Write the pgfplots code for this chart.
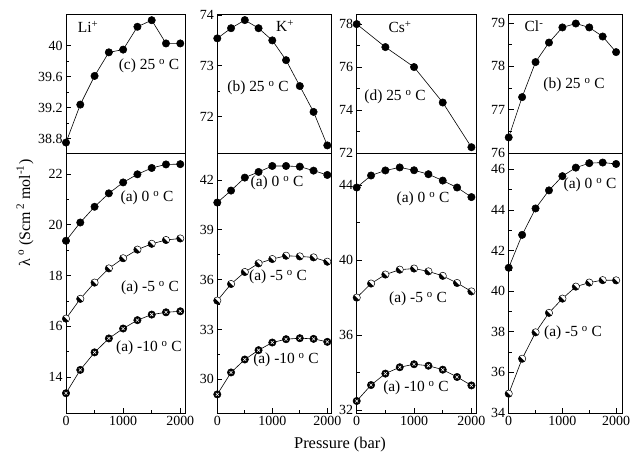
\documentclass[border=0pt]{standalone}
\usepackage{fontspec}
\setmainfont{Liberation Serif}
\usepackage{pgfplots}
\usepackage{pgfplotstable}
\pgfplotsset{compat=1.18}

\pgfdeclareplotmark{hdiag}{%
  \begin{pgfscope}
  \pgfpathcircle{\pgfpointorigin}{\pgfplotmarksize}%
  \pgfsetfillcolor{white}%
  \pgfusepathqfill
  \end{pgfscope}
  \begin{pgfscope}
  \pgfpathmoveto{\pgfqpointpolar{135}{\pgfplotmarksize}}%
  \pgfpatharc{135}{315}{\pgfplotmarksize}%
  \pgfpathclose
  \pgfsetfillcolor{black}%
  \pgfusepathqfill
  \end{pgfscope}
  \pgfpathcircle{\pgfpointorigin}{\pgfplotmarksize}%
  \pgfusepathqstroke
}
\pgfdeclareplotmark{xdot}{%
  \begin{pgfscope}
  \pgfsetfillcolor{black}%
  \pgfpathcircle{\pgfpointorigin}{\pgfplotmarksize}%
  \pgfusepathqfillstroke
  \end{pgfscope}
  \begin{pgfscope}
  \pgfsetstrokecolor{white}%
  \pgfsetlinewidth{0.55pt}%
  \pgfpathmoveto{\pgfqpoint{-0.4\pgfplotmarksize}{-0.4\pgfplotmarksize}}%
  \pgfpathlineto{\pgfqpoint{0.4\pgfplotmarksize}{0.4\pgfplotmarksize}}%
  \pgfpathmoveto{\pgfqpoint{-0.4\pgfplotmarksize}{0.4\pgfplotmarksize}}%
  \pgfpathlineto{\pgfqpoint{0.4\pgfplotmarksize}{-0.4\pgfplotmarksize}}%
  \pgfusepathqstroke
  \end{pgfscope}
}

% Top row (25 C)
\pgfplotstableread{
P     Li     K
0     38.75  73.54
250   39.24  73.74
500   39.61  73.90
750   39.915 73.74
1000  39.95  73.50
1250  40.245 73.11
1500  40.33  72.60
1750  40.03  72.09
2000  40.03  71.43
}\toprow
\pgfplotstableread{
P     Cs
0     78.00
500   76.93
1000  76.00
1500  74.35
2000  72.27
}\cstop
\pgfplotstableread{
P     Cl
0     76.36
250   77.29
500   78.10
750   78.55
1000  78.90
1250  78.99
1500  78.90
1750  78.69
2000  78.33
}\cltop
% Bottom row
\pgfplotstableread{
P     T0     T5     T10
0     19.37  16.30  13.36
250   20.09  17.08  14.28
500   20.71  17.72  14.97
750   21.24  18.28  15.52
1000  21.67  18.68  15.91
1250  21.99  19.02  16.24
1500  22.24  19.25  16.46
1750  22.38  19.40  16.55
2000  22.39  19.46  16.59
}\libot
\pgfplotstableread{
P     T0     T5     T10
0     40.64  34.74  29.10
250   41.36  35.74  30.42
500   42.14  36.46  31.20
750   42.48  36.98  31.76
1000  42.84  37.24  32.22
1250  42.84  37.44  32.42
1500  42.80  37.40  32.48
1750  42.56  37.34  32.44
2000  42.30  37.08  32.26
}\kbot
\pgfplotstableread{
P     T0     T5     T10
0     43.86  37.99  32.48
250   44.50  38.74  33.33
500   44.77  39.22  33.94
750   44.93  39.48  34.28
1000  44.78  39.54  34.44
1250  44.57  39.39  34.36
1500  44.23  39.15  34.15
1750  43.86  38.77  33.76
2000  43.35  38.32  33.31
}\csbot
\pgfplotstableread{
P     T0     T5
0     41.15  34.95
250   42.77  36.67
500   44.07  37.97
750   44.96  38.93
1000  45.66  39.63
1250  46.08  40.22
1500  46.30  40.42
1750  46.33  40.54
2000  46.26  40.53
}\clbot

\pgfplotsset{
  panel/.style={
    scale only axis, anchor=north west, clip=false,
    axis line style={line width=0.9bp},
    every tick/.style={black, line width=0.7bp},
    major tick length=5bp, minor tick length=3bp,
    tick align=inside, ytick pos=left, xtick pos=bottom,
    xmin=0,
    tick label style={font=\fontsize{14}{14}\selectfont},
    /pgf/number format/assume math mode=true,
    /pgf/number format/1000 sep={},
    minor x tick num=1, minor y tick num=1,
    every axis plot/.append style={black, line width=0.6bp, mark size=3.7bp},
  },
  toppanel/.style={panel, height=139bp, xtick=\empty},
  botpanel/.style={panel, height=260bp, xtick={0,1000,2000}},
  f0/.style={mark=*, mark options={fill=black, draw=black, line width=0.5bp}},
  f5/.style={mark=hdiag, mark options={draw=black, line width=0.5bp}},
  f10/.style={mark=xdot, mark options={draw=black, line width=0.5bp}},
}

\newcommand{\lbl}[3]{\node[font=\fontsize{15.5}{15.5}\selectfont, inner sep=0pt] at (#1bp,-#2bp) {#3};}

\begin{document}
\begin{tikzpicture}
\path[use as bounding box] (0,0) rectangle (631bp,-459bp);

% ---- Top row ----
\begin{axis}[toppanel, at={(66bp,-14bp)}, width=119.7bp, xmax=2095,
  ymin=38.615, ymax=40.41, ytick={38.8,39.2,39.6,40}]
\addplot[f0] table[x=P, y=Li] {\toprow};
\end{axis}
\begin{axis}[toppanel, at={(217.3bp,-14bp)}, width=114.4bp, xmax=2080,
  ymin=71.28, ymax=74.02, ytick={72,73,74}]
\addplot[f0] table[x=P, y=K] {\toprow};
\end{axis}
\begin{axis}[toppanel, at={(356.7bp,-14bp)}, width=119.3bp, xmax=2080,
  ymin=72, ymax=78.47, ytick={72,74,76,78}]
\addplot[f0] table[x=P, y=Cs] {\cstop};
\end{axis}
\begin{axis}[toppanel, at={(508.7bp,-14bp)}, width=113.3bp, xmax=2110,
  ymin=76, ymax=79.21, ytick={76,77,78,79}]
\addplot[f0] table[x=P, y=Cl] {\cltop};
\end{axis}

% ---- Bottom row ----
\begin{axis}[botpanel, at={(66bp,-153bp)}, width=119.7bp, xmax=2095,
  ymin=12.58, ymax=22.83, ytick={14,16,18,20,22}]
\addplot[f0] table[x=P, y=T0] {\libot};
\addplot[f5] table[x=P, y=T5] {\libot};
\addplot[f10] table[x=P, y=T10] {\libot};
\end{axis}
\begin{axis}[botpanel, at={(217.3bp,-153bp)}, width=114.4bp, xmax=2080,
  ymin=27.98, ymax=43.62, ytick={30,33,36,39,42}]
\addplot[f0] table[x=P, y=T0] {\kbot};
\addplot[f5] table[x=P, y=T5] {\kbot};
\addplot[f10] table[x=P, y=T10] {\kbot};
\end{axis}
\begin{axis}[botpanel, at={(356.7bp,-153bp)}, width=119.3bp, xmax=2080,
  ymin=31.84, ymax=45.7, ytick={32,36,40,44}]
\addplot[f0] table[x=P, y=T0] {\csbot};
\addplot[f5] table[x=P, y=T5] {\csbot};
\addplot[f10] table[x=P, y=T10] {\csbot};
\end{axis}
\begin{axis}[botpanel, at={(508.7bp,-153bp)}, width=113.3bp, xmax=2110,
  ymin=34, ymax=46.8, ytick={34,36,38,40,42,44,46}]
\addplot[f0] table[x=P, y=T0] {\clbot};
\addplot[f5] table[x=P, y=T5] {\clbot};
\end{axis}

% ---- Annotations ----
\lbl{88}{27}{Li\textsuperscript{+}}
\lbl{149}{66}{(c) 25 \textsuperscript{o} C}
\lbl{285}{26}{K\textsuperscript{+}}
\lbl{258}{88}{(b) 25 \textsuperscript{o} C}
\lbl{400}{27}{Cs\textsuperscript{+}}
\lbl{395}{97}{(d) 25 \textsuperscript{o} C}
\lbl{534}{26}{Cl\textsuperscript{-}}
\lbl{574}{85}{(b) 25 \textsuperscript{o} C}

\lbl{147}{198}{(a) 0 \textsuperscript{o} C}
\lbl{150}{288}{(a) -5 \textsuperscript{o} C}
\lbl{149}{348}{(a) -10 \textsuperscript{o} C}
\lbl{277}{183}{(a) 0 \textsuperscript{o} C}
\lbl{278}{277}{(a) -5 \textsuperscript{o} C}
\lbl{286}{360}{(a) -10 \textsuperscript{o} C}
\lbl{423}{199}{(a) 0 \textsuperscript{o} C}
\lbl{418}{299}{(a) -5 \textsuperscript{o} C}
\lbl{416}{388}{(a) -10 \textsuperscript{o} C}
\lbl{590}{185}{(a) 0 \textsuperscript{o} C}
\lbl{573}{333}{(a) -5 \textsuperscript{o} C}

\node[rotate=90, font=\fontsize{16}{16}\selectfont, inner sep=0pt] at (25bp,-213bp)
  {λ\,\textsuperscript{o} (Scm\,\textsuperscript{2} mol\textsuperscript{-1})};
\node[font=\fontsize{16.5}{16.5}\selectfont, inner sep=0pt] at (340bp,-445bp) {Pressure (bar)};
\end{tikzpicture}
\end{document}
